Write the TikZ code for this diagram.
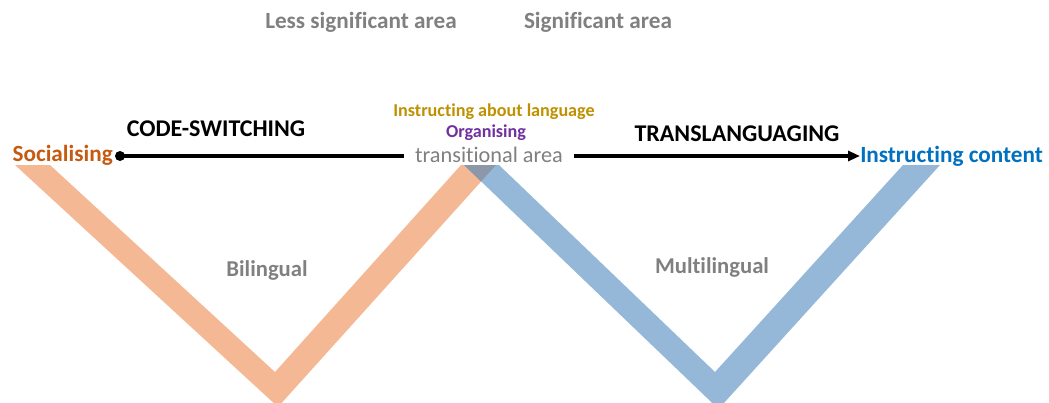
\documentclass[tikz,border=0pt]{standalone}
\usepackage{fontspec}
\setmainfont{Carlito}[Ligatures=NoCommon]
\usetikzlibrary{arrows.meta}
\definecolor{vorange}{HTML}{F4B994}
\definecolor{vblue}{HTML}{95B8D9}
\definecolor{vgrey}{HTML}{8C98A8}
\definecolor{txtorange}{HTML}{C55A11}
\definecolor{txtblue}{HTML}{0070C0}
\definecolor{txtgold}{HTML}{BF9000}
\definecolor{txtpurple}{HTML}{7030A0}
\definecolor{txtgrey}{HTML}{808080}
\tikzset{
  lbl/.style={inner sep=0pt, font=\fontsize{17.4}{20}\selectfont\bfseries},
  greylbl/.style={lbl, text=txtgrey},
  head/.style={lbl, text=black, font=\fontsize{18}{21}\selectfont\bfseries},
  small/.style={lbl, font=\fontsize{13.6}{16}\selectfont\bfseries},
  conn/.style={line width=2.4pt, black},
}
\begin{document}
\begin{tikzpicture}[x=0.75pt,y=-0.75pt]
\useasboundingbox (0,0) rectangle (1049,403);
% V bands
\fill[vorange] (15,165) -- (50,165) -- (275,372) -- (461,165) -- (496,165) -- (278,407) -- cycle;
\fill[vblue] (464,165) -- (499,165) -- (715,372) -- (903,165) -- (940,165) -- (718.5,409) -- cycle;
\fill[vgrey] (464,165) -- (496,165) -- (481,181.5) -- cycle;
% top labels
\node[greylbl] (less) at (361,22) {Less significant area};
\node[greylbl] (sig) at (598,22) {Significant area};
% band labels
\node[greylbl, font=\fontsize{17}{20}\selectfont\bfseries] (bil) at (267,270) {Bilingual};
\node[greylbl, font=\fontsize{17}{20}\selectfont\bfseries] (mul) at (712,267) {Multilingual};
% headings
\node[head] (cs) at (216,129) {CODE-SWITCHING};
\node[head] (tl) at (737,134) {TRANSLANGUAGING};
% middle labels
\node[small, text=txtgold] (ial) at (494,112) {Instructing about language};
\node[small, text=txtpurple] (org) at (486,133) {Organising};
\node[fill=white, inner xsep=8pt, inner ysep=2pt, text=txtgrey, font=\fontsize{16.7}{19}\selectfont] (trans) at (489,155) {transitional area};
% ends
\node[circle, fill=black, inner sep=0pt, minimum size=7.5pt] (dot) at (120,156) {};
\node[lbl, text=txtorange, anchor=east] (soc) at (113,155) {Socialising};
\node[lbl, text=txtblue, anchor=west] (ic) at (860,156) {Instructing content};
% connectors
\draw[conn] (dot.center) -- (trans.west |- dot.center);
\draw[conn, -{Triangle[length=9pt,width=7.5pt]}] (trans.east |- dot.center) -- (ic.west |- dot.center);
\end{tikzpicture}
\end{document}
